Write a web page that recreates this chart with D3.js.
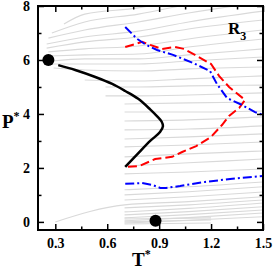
<!DOCTYPE html>
<html>
<head>
<meta charset="utf-8">
<script src="https://cdn.jsdelivr.net/npm/d3@7"></script>
<style>
  body { margin: 0; background: #fff; }
  svg { display: block; }
  .tick text { font-family: "Liberation Serif", "Times New Roman", serif; font-weight: bold; font-size: 14px; fill: #000; }
</style>
</head>
<body>
<div id="chart"></div>
<script>
// Axis ticks
const xMajor = [0.3, 0.6, 0.9, 1.2, 1.5];
const xMinor = [0.45, 0.75, 1.05, 1.35];
const yMajor = [0, 2, 4, 6, 8];
const yMinor = [1, 3, 5, 7];

// Background gray lines [T, P]
const grayLines = [
    [[0.35, 7.33], [0.47, 7.70], [0.78, 7.93], [1.07, 8.30]],
    [[0.28, 7.00], [0.47, 7.41], [0.78, 7.70], [1.07, 8.07], [1.5, 8.59]],
    [[0.26, 6.81], [0.47, 7.11], [0.78, 7.41], [1.07, 7.74], [1.5, 8.15]],
    [[0.25, 6.59], [0.47, 6.85], [0.78, 7.07], [1.07, 7.41], [1.5, 7.81]],
    [[0.25, 6.44], [0.47, 6.67], [0.78, 6.85], [1.07, 7.15], [1.5, 7.48]],
    [[0.26, 6.30], [0.47, 6.41], [0.78, 6.52], [1.07, 6.78], [1.5, 7.11]],
    [[0.265, 6.15], [0.47, 6.19], [0.78, 6.22], [1.07, 6.48], [1.5, 6.78]],
    [[0.28, 5.96], [0.47, 6.04], [0.78, 6.04], [1.07, 6.19], [1.5, 6.41]],
    [[0.28, 5.85], [0.47, 5.85], [0.78, 5.85], [1.07, 5.96], [1.5, 6.11]],
    [[0.29, 5.70], [0.47, 5.63], [0.78, 5.59], [1.07, 5.67], [1.5, 5.74]],
    [[0.47, 5.26], [0.78, 5.22], [1.07, 5.30], [1.5, 5.41]],
    [[0.59, 5.00], [0.78, 5.00], [1.07, 5.04], [1.5, 5.07]],
    [[0.59, 4.67], [0.78, 4.67], [1.07, 4.70], [1.5, 4.78]],
    [[0.70, 4.37], [1.07, 4.41], [1.5, 4.44]],
    [[0.70, 4.07], [1.07, 4.07], [1.5, 4.11]],
    [[0.70, 3.74], [1.07, 3.78], [1.5, 3.89]],
    [[0.70, 3.41], [1.07, 3.44], [1.5, 3.56]],
    [[0.70, 3.07], [1.07, 3.15], [1.5, 3.26]],
    [[0.70, 2.78], [1.07, 2.85], [1.5, 2.96]],
    [[0.70, 2.41], [1.07, 2.52], [1.5, 2.63]],
    [[0.70, 2.07], [1.07, 2.19], [1.5, 2.33]],
    [[0.70, 1.78], [1.07, 1.85], [1.5, 1.96]],
    [[0.70, 1.19], [1.07, 1.30], [1.5, 1.48]],
    [[0.70, 1.00], [1.07, 1.12], [1.5, 1.30]],
    [[0.70, 0.81], [1.07, 0.93], [1.5, 1.11]],
    [[0.30, 0.00], [0.70, 0.63], [1.07, 0.75], [1.5, 0.93]],
    [[0.70, 0.52], [1.07, 0.63], [1.5, 0.81]],
    [[0.70, 0.37], [1.07, 0.50], [1.5, 0.70]],
    [[0.70, 0.26], [1.07, 0.38], [1.5, 0.56]],
    [[0.70, 0.15], [1.07, 0.27], [1.5, 0.44]],
    [[0.70, 0.04], [1.07, 0.16], [1.5, 0.33]],
    [[0.70, -0.04], [1.07, 0.06], [1.5, 0.19]],
    [[0.70, 0.11], [1.2, 0.15]],
    [[0.70, 0.00], [1.2, 0.07]],
    [[0.70, -0.08], [1.2, -0.04]]
];

// Solid black curve
const blackCurve = [
    [0.317, 5.81], [0.415, 5.63], [0.531, 5.37], [0.629, 5.11], [0.704, 4.85],
    [0.779, 4.56], [0.848, 4.17], [0.890, 3.90], [0.914, 3.72], [0.922, 3.55],
    [0.905, 3.33], [0.848, 3.00], [0.773, 2.50], [0.704, 2.04]
];

// Red dashed curve
const redCurve = [
    [0.704, 6.48], [0.761, 6.59], [0.802, 6.67], [0.848, 6.56], [0.917, 6.41],
    [0.992, 6.48], [1.044, 6.41], [1.107, 6.19], [1.200, 5.85], [1.246, 5.41],
    [1.304, 5.00], [1.396, 4.52], [1.362, 4.22], [1.304, 3.93], [1.263, 3.59],
    [1.200, 3.15], [1.114, 2.81], [1.033, 2.59], [0.975, 2.41], [0.877, 2.33],
    [0.785, 2.07], [0.704, 2.04]
];

// Blue dash-dot curves
const blueTop = [
    [0.704, 7.22], [0.773, 6.78], [0.825, 6.56], [0.888, 6.37], [0.980, 6.19],
    [1.096, 5.89], [1.194, 5.59], [1.234, 5.11], [1.292, 4.59], [1.367, 4.37],
    [1.454, 4.07], [1.500, 3.96]
];
const blueBottom = [
    [0.704, 1.41], [0.802, 1.44], [0.860, 1.37], [0.906, 1.26], [0.940, 1.26],
    [1.021, 1.33], [1.165, 1.48], [1.310, 1.59], [1.500, 1.70]
];

// Big black dots
const dots = [[0.26, 6.0], [0.879, 0.04]];

const width = 273, height = 270;
const margin = { top: 6, right: 10, bottom: 40, left: 38 };

const svg = d3.select('#chart')
    .append('svg')
    .attr('width', width)
    .attr('height', height);

const x = d3.scaleLinear()
    .domain([0.2, 1.5])
    .range([margin.left, width - margin.right]);

const y = d3.scaleLinear()
    .domain([-0.3, 8])
    .range([height - margin.bottom, margin.top]);

svg.append('clipPath')
    .attr('id', 'plot-clip')
    .append('rect')
    .attr('x', x(0.2))
    .attr('y', y(8))
    .attr('width', x(1.5) - x(0.2))
    .attr('height', y(-0.3) - y(8));

const line = d3.line()
    .x(d => x(d[0]))
    .y(d => y(d[1]))
    .curve(d3.curveMonotoneX);

const lineL = d3.line()
    .x(d => x(d[0]))
    .y(d => y(d[1]));

const lineC = d3.line()
    .x(d => x(d[0]))
    .y(d => y(d[1]))
    .curve(d3.curveCatmullRom.alpha(0.5));

const plot = svg.append('g').attr('clip-path', 'url(#plot-clip)');

// Gray lines
plot.selectAll('.gray')
    .data(grayLines)
    .enter()
    .append('path')
    .attr('class', 'gray')
    .attr('d', line)
    .attr('fill', 'none')
    .attr('stroke', '#d9d9d9')
    .attr('stroke-width', 1.1);

// Red dashed
plot.append('path')
    .attr('d', lineL(redCurve))
    .attr('fill', 'none')
    .attr('stroke', '#ff0000')
    .attr('stroke-width', 2)
    .attr('stroke-dasharray', '9,4');

// Blue dash-dot
[blueTop, blueBottom].forEach(c => {
    plot.append('path')
        .attr('d', lineL(c))
        .attr('fill', 'none')
        .attr('stroke', '#0000ff')
        .attr('stroke-width', 2)
        .attr('stroke-dasharray', '9,3,2,3');
});

// Black solid
plot.append('path')
    .attr('d', lineC(blackCurve))
    .attr('fill', 'none')
    .attr('stroke', '#000')
    .attr('stroke-width', 2.5);

// Dots
svg.selectAll('.dot')
    .data(dots)
    .enter()
    .append('circle')
    .attr('class', 'dot')
    .attr('cx', d => x(d[0]))
    .attr('cy', d => y(d[1]))
    .attr('r', 6)
    .attr('fill', '#000');

// Axes (ticks inward on all four sides)
const fmtX = d3.format('.1f');
function addAxis(axisFn, scale, major, minor, transform, labels, fmt) {
    const gMin = svg.append('g')
        .attr('transform', transform)
        .call(axisFn(scale).tickValues(minor).tickSize(-3.5).tickFormat(''));
    const gMaj = svg.append('g')
        .attr('transform', transform)
        .call(axisFn(scale).tickValues(major).tickSize(-6).tickPadding(labels ? 8 : 0)
            .tickFormat(labels ? fmt : ''));
    [gMin, gMaj].forEach(g => {
        g.select('.domain').remove();
        g.selectAll('.tick line').attr('stroke', '#000').attr('stroke-width', 1.5);
    });
    return gMaj;
}

addAxis(d3.axisBottom, x, xMajor, xMinor, `translate(0,${y(-0.3)})`, true, fmtX);
addAxis(d3.axisTop, x, xMajor, xMinor, `translate(0,${y(8)})`, false);
addAxis(d3.axisLeft, y, yMajor, yMinor, `translate(${x(0.2)},0)`, true, d3.format('d'));
addAxis(d3.axisRight, y, yMajor, yMinor, `translate(${x(1.5)},0)`, false);

// Frame
svg.append('rect')
    .attr('x', x(0.2))
    .attr('y', y(8))
    .attr('width', x(1.5) - x(0.2))
    .attr('height', y(-0.3) - y(8))
    .attr('fill', 'none')
    .attr('stroke', '#000')
    .attr('stroke-width', 2);

// Axis titles
const serif = '"Liberation Serif", "Times New Roman", serif';
const pLabel = svg.append('text')
    .attr('x', 2)
    .attr('y', 128)
    .attr('font-family', serif)
    .attr('font-weight', 'bold')
    .attr('font-size', 19);
pLabel.append('tspan').text('P');
pLabel.append('tspan').attr('dy', -8).attr('font-size', 12).text('*');

const tLabel = svg.append('text')
    .attr('x', 132)
    .attr('y', 266)
    .attr('font-family', serif)
    .attr('font-weight', 'bold')
    .attr('font-size', 19);
tLabel.append('tspan').text('T');
tLabel.append('tspan').attr('dy', -8).attr('font-size', 12).text('*');

const rLabel = svg.append('text')
    .attr('x', 228)
    .attr('y', 34)
    .attr('font-family', serif)
    .attr('font-weight', 'bold')
    .attr('font-size', 17);
rLabel.append('tspan').text('R');
rLabel.append('tspan').attr('dy', 6).attr('font-size', 12).text('3');
</script>
</body>
</html>
